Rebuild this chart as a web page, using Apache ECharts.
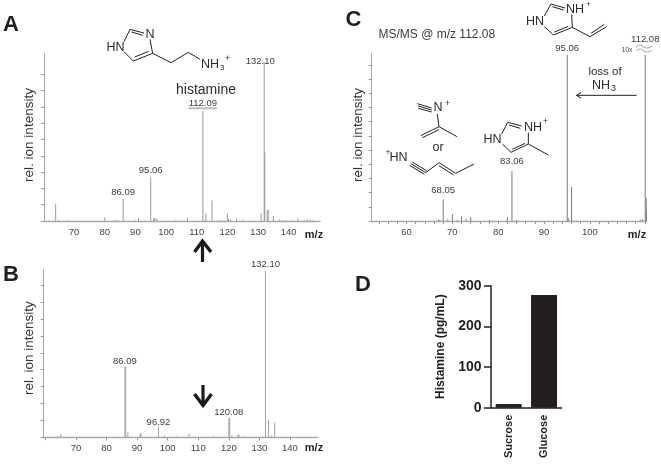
<!DOCTYPE html>
<html lang="en">

<head>
    <meta charset="UTF-8">
    <title>Histamine MS figure</title>
    <style>
        html, body { margin: 0; padding: 0; background: #fff; }
        #chart { width: 661px; height: 464px; }
    </style>
</head>

<body>
    <div id="chart"></div>

    <script src="https://cdn.jsdelivr.net/npm/echarts@6/dist/echarts.min.js"></script>
    <script>
        // panel A
        const mzA = [64, 65, 68, 80, 83, 84, 86, 90, 91, 95, 96, 96.3, 97, 103, 105, 107, 112, 113, 115, 117, 118, 120, 120.3, 121, 123, 125, 131, 132, 132.2, 133, 133.3, 135, 137, 138, 139, 141, 143, 145, 146, 147, 148]
        const intA = [10.4, 0.6, 0.5, 2.2, 0.5, 0.6, 13.5, 0.5, 1.8, 26.8, 1.8, 1.8, 1.4, 0.5, 0.5, 2.2, 67.5, 4.7, 12.5, 0.5, 0.5, 4.5, 1.5, 0.8, 1.6, 0.6, 4.9, 97.3, 42, 6.7, 6.7, 3, 0.7, 0.6, 0.5, 0.5, 1.6, 0.5, 1, 0.6, 0.6]
        const labelsA = { 86: '86.09', 95: '95.06', 112: '112.09', 132: '132.10' }

        // panel B
        const mzB = [64, 65, 86, 86.3, 87, 91, 91.3, 97, 99, 103, 107, 115, 120, 120.3, 121, 123, 123.3, 125, 131, 132, 133, 134, 135]
        const intB = [0.8, 2, 41.8, 41.8, 3, 2.4, 2.4, 6.1, 1, 0.6, 2, 0.8, 11.4, 11.4, 1, 1.6, 1.6, 0.6, 0.6, 98.6, 10.6, 1, 8.7]
        const labelsB = { 86: '86.09', 97: '96.92', 120: '120.08', 132: '132.10' }

        // panel C
        const mzC = [67, 67.3, 68, 69, 70, 71, 72, 73, 74, 78, 82, 83, 84, 95.06, 95.3, 96, 97, 111, 111.5, 112.08, 112.3, 112.35]
        const intC = [0.9, 0.9, 15.3, 1.2, 4.9, 0.7, 3.3, 1.4, 2.8, 0.5, 2.8, 35.2, 0.6, 117, 2, 23.9, 0.5, 0.8, 1.2, 117, 16, 7]
        const labelsC = { 68: '68.05', 83: '83.06', 95.06: '95.06', 112.08: '112.08' }

        // panel D
        const sugars = ['Sucrose', 'Glucose']
        const histamine = [9, 277]

        const tickLabelsAB = [70, 80, 90, 100, 110, 120, 130, 140]
        const tickLabelsC = [60, 70, 80, 90, 100]
        const ticksC = [54, 56, 58, 60, 62, 64, 66, 68, 70, 72, 74, 76, 78, 80, 82, 84, 86, 88, 90, 92, 94, 96, 98, 100, 102, 104, 106, 108, 110, 112]
        const yTicksAB = [0, 10, 20, 30, 40, 50, 60, 70, 80, 90]
        const yTicksC = [0, 10, 20, 30, 40, 50, 60, 70, 80, 90, 100, 110]

        const font = '"Liberation Sans", Arial, sans-serif'
        const ink = '#231f20'

        function spectrum(mz, intensity, labels, offsets) {
            return mz.map((x, i) => {
                const item = { value: [x, intensity[i]] }
                if (labels[x]) {
                    const o = offsets[x] || {}
                    item.label = {
                        show: true,
                        position: 'top',
                        formatter: labels[x],
                        distance: o.distance === undefined ? 2 : o.distance,
                        offset: o.offset || [0, 0],
                        fontSize: 9.5,
                        fontFamily: font,
                        color: '#3c3c3c'
                    }
                }
                return item
            })
        }

        function msX(gridIndex, min, max, labelValues, tickValues, showTicks) {
            return {
                type: 'value', gridIndex, min, max,
                splitLine: { show: false },
                axisLine: { onZero: false, lineStyle: { color: '#a8a8a8', width: 1.4 } },
                axisTick: { show: showTicks, customValues: tickValues, length: 3, lineStyle: { color: '#999', width: 1 } },
                axisLabel: { customValues: labelValues, fontSize: 9.5, fontFamily: font, color: '#444', margin: 6 }
            }
        }

        function msY(gridIndex, max, tickValues, gap, shift) {
            return {
                type: 'value', gridIndex, min: 0, max,
                name: 'rel. ion intensity',
                nameLocation: 'middle',
                nameGap: gap,
                nameTextStyle: { fontSize: 13.5, fontFamily: font, color: '#333', padding: [0, 0, 0, shift] },
                splitLine: { show: false },
                axisLine: { show: true, lineStyle: { color: '#a8a8a8', width: 1 } },
                axisTick: { show: true, customValues: tickValues, length: 3, lineStyle: { color: '#999', width: 1 } },
                axisLabel: { show: false }
            }
        }

        function msSeries(i, mz, intensity, labels, offsets, color) {
            return {
                type: 'bar', xAxisIndex: i, yAxisIndex: i,
                barWidth: 1, silent: true, animation: false,
                itemStyle: { color },
                data: spectrum(mz, intensity, labels, offsets)
            }
        }

        // --- drawn annotations: chemical structures, arrows, panel letters.
        // Coordinates are px on the page; crop() maps from zoomed panel coords.
        const graphic = []

        function text(x, y, s, size, opts) {
            graphic.push({
                type: 'text', x, y, silent: true,
                style: Object.assign({
                    text: s, fontSize: size, fontFamily: font, fill: '#2b2b2b',
                    align: 'center', verticalAlign: 'middle'
                }, opts || {})
            })
        }

        function poly(points, width, color, smooth) {
            graphic.push({
                type: 'polyline', silent: true,
                shape: { points, smooth: smooth || 0 },
                style: { stroke: color || '#222', lineWidth: width || 1, fill: null }
            })
        }

        function crop(ox, oy, lines) {
            lines.forEach(l => poly(l.map(p => [ox + p[0] / 3, oy + p[1] / 3])))
        }

        // panel letters
        text(11, 24.5, 'A', 22, { fontWeight: 'bold', fill: ink })
        text(11, 274.5, 'B', 22, { fontWeight: 'bold', fill: ink })
        text(353.5, 19.5, 'C', 22, { fontWeight: 'bold', fill: ink })
        text(363, 285, 'D', 22, { fontWeight: 'bold', fill: ink })

        // m/z captions
        text(314, 234.5, 'm/z', 11, { fontWeight: 'bold', fill: ink })
        text(314, 447.5, 'm/z', 11, { fontWeight: 'bold', fill: ink })
        text(637, 234.5, 'm/z', 11, { fontWeight: 'bold', fill: ink })

        // panel A structure
        crop(0, 0, [
            [[372, 125], [390, 88], [432, 99]],
            [[395, 96], [428, 106]],
            [[450, 118], [458, 160], [400, 183], [372, 155]],
            [[446, 154], [404, 171]],
            [[458, 160], [513, 188], [565, 157], [600, 178]]
        ])
        text(115.5, 47.5, 'HN', 12.5)
        text(150, 34.5, 'N', 12.5)
        text(201, 64.5, 'NH', 12.5, { align: 'left' })
        text(220, 67.5, '3', 8, { align: 'left' })
        text(225, 59, '+', 9, { align: 'left' })
        text(206, 90.5, 'histamine', 14)
        poly([[188.5, 108.3], [217, 108.3]], 1.8, '#b8b8b8')

        // panel C annotations
        text(378.5, 35, 'MS/MS @ m/z 112.08', 12, { align: 'left', fill: '#3a3a3a' })
        crop(335, 0, [
            [[628, 48], [648, 12], [690, 24]],
            [[652, 20], [686, 30]],
            [[710, 44], [712, 82], [655, 105], [628, 80]],
            [[700, 79], [658, 96]],
            [[712, 82], [765, 110], [815, 80]],
            [[768, 100], [808, 73]],

            [[500, 402], [518, 367], [560, 378]],
            [[522, 375], [556, 385]],
            [[580, 398], [580, 432], [528, 457], [502, 432]],
            [[570, 430], [532, 448]],
            [[580, 432], [640, 465]],

            [[247, 311], [290, 324]],
            [[249, 318], [290, 330]],
            [[250, 325], [290, 336]],
            [[307, 342], [312, 380], [257, 407]],
            [[312, 389], [262, 413]],
            [[312, 380], [366, 410]],

            [[228, 491], [272, 518]],
            [[232, 486], [276, 513]],
            [[224, 496], [268, 523]],
            [[272, 518], [312, 488], [362, 520], [417, 492]],
            [[312, 497], [356, 525]],

            // loss of NH3 arrow
            [[905, 286], [725, 286]],
            [[738, 278], [724, 286], [738, 294]]
        ])
        text(535, 22, 'HN', 12.5)
        text(575, 10, 'NH', 12.5)
        text(586, 5, '+', 8.5, { align: 'left' })
        text(492.5, 140, 'HN', 12.5)
        text(533, 127.5, 'NH', 12.5)
        text(543, 122, '+', 8.5, { align: 'left' })
        text(438, 108, 'N', 12.5)
        text(445, 103.5, '+', 8.5, { align: 'left' })
        text(438, 148, 'or', 12.5)
        text(398.5, 158, 'HN', 12.5)
        text(388, 153, '+', 8.5)
        text(605, 72, 'loss of', 11.5)
        text(601, 85.5, 'NH', 12.5)
        text(611, 88.5, '3', 9, { align: 'left' })
        text(627, 50, '10x', 6.5, { fill: '#444' })

        // axis break on the 112.08 peak
        poly([[636, 47], [640, 45], [644, 47], [648, 48], [652, 46]], 0.8, '#888', 0.5)
        poly([[636, 51], [640, 49], [644, 51], [648, 52], [652, 50]], 0.8, '#888', 0.5)

        // block arrows between A and B
        poly([[202.5, 262], [202.5, 242]], 3.2, '#1a1a1a')
        poly([[194.5, 252], [202.5, 241], [211, 252]], 3.4, '#1a1a1a')
        poly([[203, 385], [203, 405]], 3.2, '#1a1a1a')
        poly([[194.5, 394], [203, 405.5], [211.5, 394]], 3.4, '#1a1a1a')

        const chartEl = document.querySelector('#chart')
        const myChart = echarts.init(chartEl)

        const option = {
            backgroundColor: '#fff',
            animation: false,
            textStyle: { fontFamily: font },
            grid: [
                { left: 44, top: 54, width: 276, height: 167 },
                { left: 43.5, top: 270, width: 274, height: 167.3 },
                { left: 371.7, top: 54, width: 275, height: 167 },
                { left: 491, top: 285.7, width: 70.7, height: 122 }
            ],
            xAxis: [
                msX(0, 60.2, 150.2, tickLabelsAB, tickLabelsAB, false),
                msX(1, 59.4, 149, tickLabelsAB, [60].concat(tickLabelsAB), true),
                msX(2, 52.4, 112.4, tickLabelsC, ticksC, true),
                {
                    type: 'category', gridIndex: 3, data: sugars,
                    axisLine: { lineStyle: { color: ink, width: 1.5 } },
                    axisTick: { length: 3.5, alignWithLabel: true, lineStyle: { color: ink, width: 1.5 } },
                    axisLabel: { rotate: 90, interval: 0, fontSize: 11, fontWeight: 'bold', fontFamily: font, color: ink, margin: 7 }
                }
            ],
            yAxis: [
                msY(0, 102.4, yTicksAB, 8, 5),
                msY(1, 99, yTicksAB, 7.5, 11),
                msY(2, 117.6, yTicksC, 6.5, 5),
                {
                    type: 'value', gridIndex: 3, min: 0, max: 300, interval: 100,
                    name: 'Histamine (pg/mL)',
                    nameLocation: 'middle',
                    nameGap: 44,
                    nameTextStyle: { fontSize: 12, fontWeight: 'bold', fontFamily: font, color: ink },
                    splitLine: { show: false },
                    axisLine: { show: true, lineStyle: { color: ink, width: 1.5 } },
                    axisTick: { show: true, length: 7, lineStyle: { color: ink, width: 1.5 } },
                    axisLabel: { fontSize: 14, fontWeight: 'bold', fontFamily: font, color: ink, margin: 9.5 }
                }
            ],
            series: [
                msSeries(0, mzA, intA, labelsA, {
                    112: { distance: 3 },
                    132: { distance: -4, offset: [-4, 0] }
                }, '#9a9a9a'),
                msSeries(1, mzB, intB, labelsB, {
                    86: { distance: 0 },
                    97: { distance: 0 },
                    132: { distance: 1 },
                    120: { distance: 1 }
                }, '#a2a2a2'),
                msSeries(2, mzC, intC, labelsC, {
                    68: { distance: 4 },
                    83: { distance: 5 },
                    95.06: { distance: 1 },
                    112.08: { distance: 8, offset: [0, -2] }
                }, '#7a7a7a'),
                {
                    type: 'bar', xAxisIndex: 3, yAxisIndex: 3,
                    barWidth: 26, silent: true,
                    itemStyle: { color: ink },
                    data: histamine
                }
            ],
            graphic: { elements: graphic }
        }

        myChart.setOption(option)
    </script>
</body>

</html>
